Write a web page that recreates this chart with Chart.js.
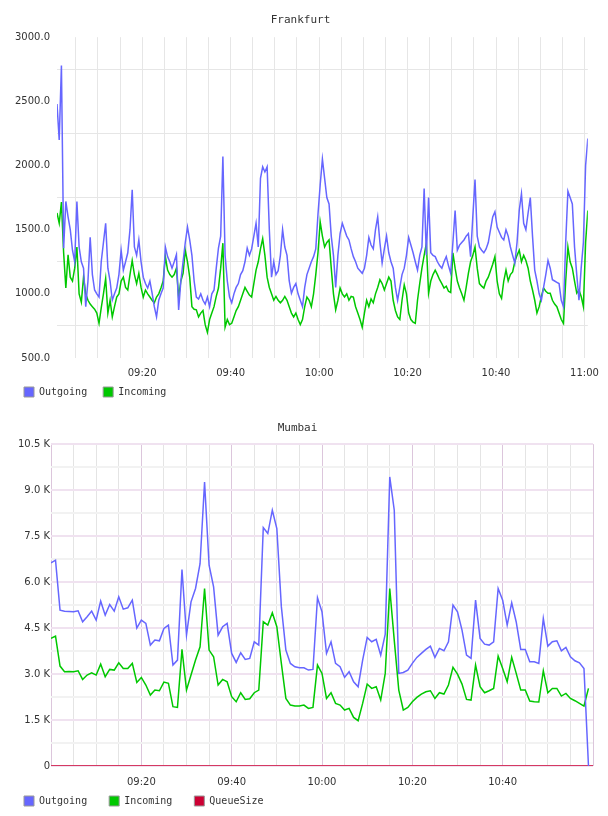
<!DOCTYPE html>
<html>
<head>
<meta charset="utf-8">
<script src="https://cdn.jsdelivr.net/npm/chart.js@4.4.1/dist/chart.umd.min.js"></script>
<style>
html, body { margin: 0; padding: 0; background: #fff; }
.box { position: absolute; left: 0; width: 608px; height: 408px; }
</style>
</head>
<body>
<div class="box" style="top:0"><canvas id="fra" width="608" height="408"></canvas></div>
<div class="box" style="top:408px"><canvas id="mum" width="608" height="408"></canvas></div>
<script>
// minutes after 09:00
var fraStart = 0.75, fraStep = 0.5;
var fraOut = [
  2480, 2200, 2780, 1355, 1720, 1600, 1500, 1340, 1250, 1720,
  1365, 1250, 1200, 900, 1100, 1440, 1150, 1030, 1000, 975,
  1250, 1400, 1550, 1200, 1100, 950, 1000, 1045, 1150, 1340,
  1185, 1250, 1320, 1500, 1810, 1365, 1300, 1420, 1250, 1130,
  1080, 1045, 1100, 1005, 900, 820, 950, 1000, 1045, 1365,
  1290, 1250, 1200, 1250, 1305, 875, 1100, 1250, 1400, 1520,
  1420, 1300, 1100, 975, 960, 1000, 950, 920, 975, 900,
  1000, 1030, 1200, 1357, 1450, 2070, 1300, 1100, 975, 930,
  1000, 1050, 1080, 1150, 1180, 1250, 1357, 1300, 1350, 1450,
  1550, 1365, 1900, 1990, 1950, 1990, 1500, 1130, 1250, 1150,
  1180, 1300, 1500, 1365, 1300, 1100, 1005, 1050, 1080, 1000,
  950, 900, 1050, 1150, 1200, 1250, 1290, 1350, 1620, 1850,
  2050, 1900, 1750, 1700, 1450, 1300, 1050, 1300, 1470, 1550,
  1500, 1450, 1420, 1350, 1290, 1250, 1200, 1180, 1160, 1200,
  1300, 1440, 1380, 1350, 1500, 1600, 1400, 1240, 1350, 1450,
  1320, 1250, 1200, 1050, 950, 1050, 1150, 1200, 1300, 1440,
  1380, 1320, 1250, 1185, 1300, 1365, 1820, 1300, 1750, 1320,
  1300, 1290, 1250, 1220, 1200, 1250, 1290, 1220, 1160, 1400,
  1650, 1340, 1380, 1400, 1420, 1450, 1470, 1290, 1600, 1890,
  1450, 1365, 1340, 1320, 1350, 1400, 1500, 1600, 1640, 1520,
  1480, 1440, 1420, 1500, 1450, 1365, 1300, 1240, 1400, 1650,
  1780, 1550, 1500, 1630, 1750, 1450, 1185, 1100, 1000, 950,
  1050, 1150, 1260, 1200, 1110, 1100, 1090, 1080, 950, 900,
  1400, 1800, 1750, 1700, 1365, 1150, 950, 1200, 1400, 2000,
  2210
];
var fraIn = [
  1630, 1550, 1715, 1320, 1045, 1305, 1130, 1100, 1200, 1365,
  1000, 935, 1130, 1000, 950, 920, 900, 880, 850, 770,
  890, 1000, 1120, 850, 950, 820, 900, 975, 1000, 1100,
  1130, 1050, 1030, 1150, 1260, 1150, 1080, 1160, 1050, 975,
  1030, 1000, 975, 950, 930, 975, 1000, 1045, 1100, 1290,
  1185, 1150, 1130, 1150, 1200, 975, 1100, 1160, 1340, 1250,
  1130, 900, 880, 875, 820, 850, 870, 760, 700, 800,
  850, 900, 980, 1045, 1200, 1395, 740, 800, 760, 770,
  820, 870, 900, 950, 1000, 1050, 1020, 990, 975, 1080,
  1185, 1250, 1350, 1430, 1300, 1130, 1050, 1000, 950, 980,
  950, 930, 950, 980, 950, 900, 850, 820, 850, 800,
  760, 800, 900, 975, 950, 900, 1000, 1150, 1320, 1560,
  1450, 1365, 1400, 1420, 1200, 1000, 875, 950, 1045, 1000,
  975, 1000, 950, 980, 975, 900, 850, 800, 740, 850,
  950, 900, 960, 930, 1000, 1050, 1110, 1080, 1030, 1080,
  1130, 1100, 950, 870, 820, 800, 950, 1070, 1000, 850,
  800, 780, 770, 950, 1080, 1200, 1300, 1395, 1005, 1100,
  1150, 1185, 1150, 1110, 1080, 1045, 1060, 1020, 1010, 1320,
  1200, 1100, 1045, 1000, 950, 1050, 1160, 1250, 1300, 1365,
  1200, 1080, 1060, 1045, 1100, 1130, 1180, 1230, 1290, 1100,
  1000, 965, 1100, 1185, 1100, 1150, 1170, 1250, 1300, 1340,
  1250, 1300, 1260, 1200, 1100, 1030, 950, 850, 900, 980,
  1045, 1020, 1005, 1005, 950, 920, 900, 850, 800, 770,
  1100, 1365, 1250, 1200, 1100, 1005, 1030, 980, 900, 1400,
  1650
];

var mumStart = 0, mumStep = 1;
var mumOut = [
  6628, 6716, 5086, 5053, 5040, 5030, 5063, 4704, 4870, 5053,
  4760, 5379, 4923, 5271, 5053, 5520, 5118, 5161, 5412, 4500,
  4760, 4652, 3945, 4108, 4085, 4489, 4597, 3293, 3456, 6413,
  4271, 5357, 5793, 6600, 9268, 6553, 5846, 4271, 4543, 4652,
  3673, 3380, 3695, 3478, 3510, 4053, 3945, 7781, 7585, 8346,
  7748, 5200, 3782, 3347, 3238, 3206, 3206, 3130, 3152, 5488,
  5030, 3673, 4053, 3347, 3238, 2891, 3075, 2749, 2586, 3456,
  4195, 4053, 4130, 3619, 4300, 9431, 8346, 3021, 3050, 3130,
  3347, 3543, 3673, 3804, 3912, 3543, 3837, 3760, 4053, 5249,
  5030, 4434, 3619, 3510, 5412, 4162, 3977, 3945, 4053, 5793,
  5412, 4597, 5324, 4700, 3804, 3804, 3401, 3401, 3347, 4815,
  3912, 4053, 4085, 3760, 3869, 3565, 3434, 3369, 3184, 0
];
var mumIn = [
  4162, 4238, 3260, 3075, 3080, 3075, 3108, 2825, 2967, 3043,
  2967, 3325, 2913, 3152, 3130, 3369, 3184, 3184, 3347, 2728,
  2891, 2641, 2315, 2478, 2456, 2738, 2695, 1935, 1913, 3804,
  2478, 2967, 3456, 3890, 5793, 3782, 3565, 2641, 2825, 2749,
  2260, 2097, 2391, 2173, 2195, 2391, 2478, 4706, 4597, 5000,
  4543, 3347, 2206, 1988, 1956, 1956, 1988, 1880, 1913, 3293,
  3021, 2206, 2391, 2043, 1988, 1826, 1880, 1586, 1478, 2043,
  2673, 2532, 2586, 2152, 3021, 5793, 4100, 2478, 1826, 1913,
  2097, 2239, 2347, 2423, 2456, 2206, 2391, 2347, 2641, 3217,
  2999, 2673, 2173, 2152, 3293, 2586, 2391, 2456, 2532, 3586,
  3184, 2749, 3543, 3021, 2478, 2478, 2119, 2097, 2086, 3108,
  2391, 2532, 2532, 2282, 2369, 2206, 2130, 2043, 1956, 2532
];
var mumQueue = [
  0, 0, 0, 0, 0, 0, 0, 0, 0, 0, 0, 0, 0, 0, 0, 0, 0, 0, 0, 0,
  0, 0, 0, 0, 0, 0, 0, 0, 0, 0, 0, 0, 0, 0, 0, 0, 0, 0, 0, 0,
  0, 0, 0, 0, 0, 0, 0, 0, 0, 0, 0, 0, 0, 0, 0, 0, 0, 0, 0, 0,
  0, 0, 0, 0, 0, 0, 0, 0, 0, 0, 0, 0, 0, 0, 0, 0, 0, 0, 0, 0,
  0, 0, 0, 0, 0, 0, 0, 0, 0, 0, 0, 0, 0, 0, 0, 0, 0, 0, 0, 0,
  0, 0, 0, 0, 0, 0, 0, 0, 0, 0, 0, 0, 0, 0, 0, 0, 0, 0, 0, 0,
  0
];

// axis ticks (minutes after 09:00) and labels
var xTicksFra = [5, 10, 15, 20, 25, 30, 35, 40, 45, 50, 55, 60, 65, 70, 75, 80, 85, 90, 95, 100, 105, 110, 115, 120];
var xTicksMum = [0, 5, 10, 15, 20, 25, 30, 35, 40, 45, 50, 55, 60, 65, 70, 75, 80, 85, 90, 95, 100, 105, 110, 115, 120];
var xLabelsFra = {20: '09:20', 40: '09:40', 60: '10:00', 80: '10:20', 100: '10:40', 120: '11:00'};
var xLabelsMum = {20: '09:20', 40: '09:40', 60: '10:00', 80: '10:20', 100: '10:40'};
var yTicksFra = [500, 750, 1000, 1250, 1500, 1750, 2000, 2250, 2500, 2750, 3000];
var yTicksMum = [0, 750, 1500, 2250, 3000, 3750, 4500, 5250, 6000, 6750, 7500, 8250, 9000, 9750, 10500];

var blue = '#6666ff', green = '#00c800', red = '#cc0033';
var tickFont = {family: 'DejaVu Sans', size: 10};
var monoFont = {family: 'DejaVu Sans Mono', size: 10};

function points(values, start, step) {
  return values.map(function(v, i) { return {x: start + i * step, y: v}; });
}

function legendItems(chart) {
  return chart.data.datasets.map(function(ds, i) {
    return {text: ds.label, fillStyle: ds.borderColor, strokeStyle: '#999', lineWidth: 1,
            hidden: false, datasetIndex: i, fontColor: '#333'};
  });
}

function setTicks(list) {
  return function(scale) { scale.ticks = list.map(function(v) { return {value: v}; }); };
}

function line(label, data, color) {
  return {label: label, data: data, borderColor: color, backgroundColor: color,
          borderWidth: 1.5, pointRadius: 0, fill: false, tension: 0};
}

// the time labels hang below the thin x box, so let them draw down to the canvas bottom
var labelRoom = {
  id: 'labelRoom',
  afterLayout: function(chart) { chart.scales.x.bottom = chart.height; }
};

new Chart(document.getElementById('fra'), {
  type: 'line',
  data: {
    datasets: [
      line('Outgoing', points(fraOut, fraStart, fraStep), blue),
      line('Incoming', points(fraIn, fraStart, fraStep), green)
    ]
  },
  plugins: [labelRoom],
  options: {
    responsive: false,
    animation: false,
    devicePixelRatio: 1,
    layout: {padding: {left: 8, right: 15, top: 0, bottom: 1}},
    plugins: {
      title: {display: true, text: 'Frankfurt', color: '#333',
              font: {family: 'DejaVu Sans Mono', size: 11, weight: 'normal'},
              padding: {top: 14, bottom: 10}},
      legend: {position: 'bottom', align: 'start',
               labels: {boxWidth: 10, boxHeight: 10, padding: 16, color: '#333', font: monoFont,
                        generateLabels: legendItems}},
      tooltip: {enabled: false}
    },
    scales: {
      x: {
        type: 'linear', min: fraStart, max: 120.75,
        afterBuildTicks: setTicks(xTicksFra),
        afterFit: function(s) { s.height = 13; },
        border: {display: false},
        grid: {color: '#e6e6e6', drawTicks: false},
        ticks: {autoSkip: false, maxRotation: 0, padding: 9, color: '#333', font: tickFont,
                callback: function(v) { return xLabelsFra[v] || ''; }}
      },
      y: {
        min: 500, max: 3000,
        afterBuildTicks: setTicks(yTicksFra),
        afterFit: function(s) { s.width = 49; },
        border: {display: false},
        grid: {drawTicks: false,
               color: function(c) { return c.tick && c.tick.value % 500 === 0 ? 'rgba(0,0,0,0)' : '#e6e6e6'; }},
        ticks: {padding: 7, color: '#333', font: tickFont,
                callback: function(v) { return v % 500 === 0 ? v.toFixed(1) : ''; }}
      }
    }
  }
});

new Chart(document.getElementById('mum'), {
  type: 'line',
  data: {
    datasets: [
      line('Outgoing', points(mumOut, mumStart, mumStep), blue),
      line('Incoming', points(mumIn, mumStart, mumStep), green),
      line('QueueSize', points(mumQueue, mumStart, mumStep), red)
    ]
  },
  plugins: [labelRoom],
  options: {
    responsive: false,
    animation: false,
    devicePixelRatio: 1,
    layout: {padding: {left: 2, right: 15, top: 0, bottom: 0}},
    plugins: {
      title: {display: true, text: 'Mumbai', color: '#333',
              font: {family: 'DejaVu Sans Mono', size: 11, weight: 'normal'},
              padding: {top: 14, bottom: 9}},
      legend: {position: 'bottom', align: 'start',
               labels: {boxWidth: 10, boxHeight: 10, padding: 22, color: '#333', font: monoFont,
                        generateLabels: legendItems}},
      tooltip: {enabled: false}
    },
    scales: {
      x: {
        type: 'linear', min: 0, max: 120,
        afterBuildTicks: setTicks(xTicksMum),
        afterFit: function(s) { s.height = 8; },
        border: {display: false},
        grid: {drawTicks: false,
               color: function(c) { return c.tick && c.tick.value % 20 === 0 ? '#dcc6dc' : '#e4e4e4'; }},
        ticks: {autoSkip: false, maxRotation: 0, padding: 10, color: '#333', font: tickFont,
                callback: function(v) { return xLabelsMum[v] || ''; }}
      },
      y: {
        min: 0, max: 10500,
        afterBuildTicks: setTicks(yTicksMum),
        afterFit: function(s) { s.width = 49; },
        border: {display: false},
        grid: {drawTicks: false, lineWidth: 2,
               color: function(c) { return c.tick && c.tick.value % 1500 === 0 ? '#f0e2f0' : '#f2f2f2'; }},
        ticks: {padding: 1, color: '#333', font: tickFont,
                callback: function(v) { return v === 0 ? '0' : v % 1500 === 0 ? (v / 1000).toFixed(1) + ' K' : ''; }}
      }
    }
  }
});
</script>
</body>
</html>
